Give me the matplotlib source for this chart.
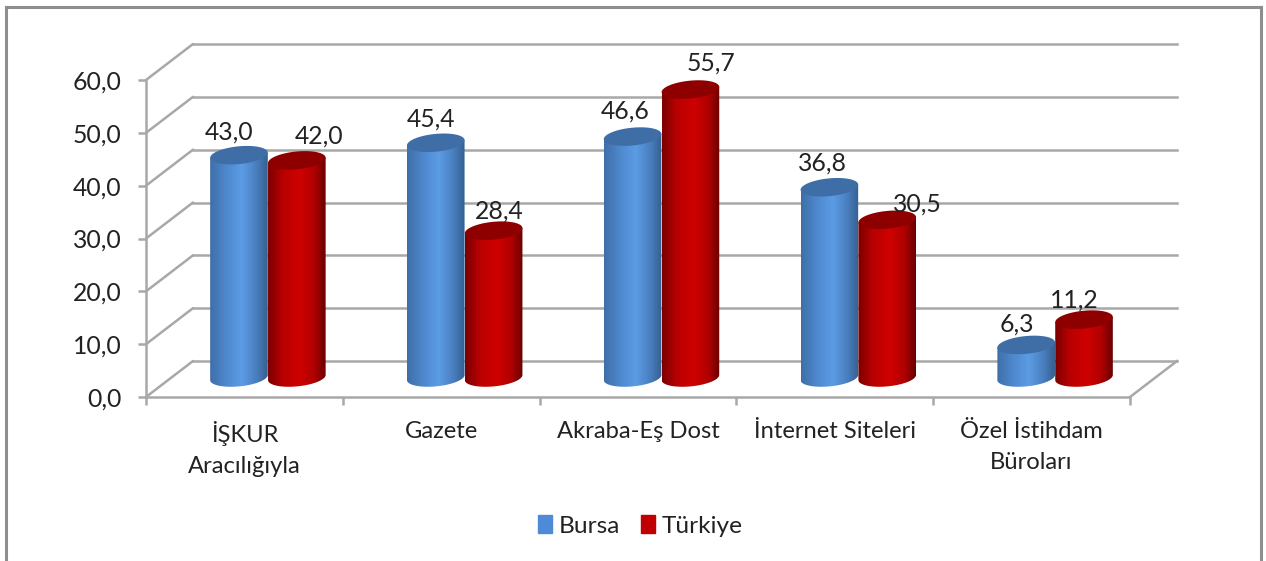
import numpy as np
import matplotlib
matplotlib.use("Agg")
import matplotlib.pyplot as plt
from matplotlib.colors import LinearSegmentedColormap
from matplotlib.lines import Line2D
from matplotlib.patches import PathPatch, Patch
from matplotlib.path import Path

categories = ["İŞKUR\nAracılığıyla", "Gazete", "Akraba-Eş Dost", "İnternet Siteleri", "Özel İstihdam\nBüroları"]
bursa = [43.0, 45.4, 46.6, 36.8, 6.3]
turkiye = [42.0, 28.4, 55.7, 30.5, 11.2]
series_names = ["Bursa", "Türkiye"]
y_ticks = [0, 10, 20, 30, 40, 50, 60]

W, H = 1266, 561
plt.rcParams["font.family"] = ["Lato", "DejaVu Sans"]
FS = 17.8
FS_CAT = 17.1
TXT = "#222222"
GRID = "#a8a8a8"
fig = plt.figure(figsize=(W / 100, H / 100), dpi=100, facecolor="white")


def axes_px(l, r, top, bottom):
    return fig.add_axes([l / W, 1 - bottom / H, (r - l) / W, (bottom - top) / H])


# chart frame (open at the bottom)
for xs, ys in [((6, 6), (561, 7)), ((6, 1261), (7, 7)), ((1261, 1261), (7, 561))]:
    fig.add_artist(Line2D([x / W for x in xs], [1 - y / H for y in ys], color="#8e8e8e", lw=2.2))

# front plane axes: value axis and category axis
L, R, T0, B0 = 146, 1130, 80, 397
ax = axes_px(L, R, T0, B0)
ax.set_xlim(0, 5)
ax.set_ylim(0, 60)
ax.patch.set_alpha(0)
for s in ["top", "right"]:
    ax.spines[s].set_visible(False)
for s in ["left", "bottom"]:
    ax.spines[s].set_color(GRID)
    ax.spines[s].set_linewidth(1.8)
ax.set_yticks(y_ticks)
ax.set_yticklabels([f"{v:.1f}".replace(".", ",") for v in y_ticks], fontsize=FS, color=TXT)
ax.set_xticks(range(6))
ax.set_xticklabels([])
ax.set_xticks([i + 0.5 for i in range(5)], categories, minor=True, fontsize=FS_CAT, color=TXT, linespacing=1.6)
ax.tick_params(axis="y", length=5.8, width=1.8, color=GRID, pad=12)
ax.tick_params(axis="x", which="major", length=5.8, width=1.8, color=GRID)
ax.tick_params(axis="x", which="minor", length=0, pad=17)

# back wall and side wall, offset along the depth direction
dx = 47 / ((R - L) / 5)
dy = 36 / ((B0 - T0) / 60)
for v in y_ticks:
    ax.plot([0, dx], [v, v + dy], color=GRID, lw=1.8, clip_on=False, solid_capstyle="round", zorder=1)
    ax.plot([dx, 5 + dx], [v + dy, v + dy], color=GRID, lw=1.8, clip_on=False, zorder=1)
ax.plot([5, 5 + dx], [0, dy], color=GRID, lw=1.8, clip_on=False, zorder=1)

# bar axes: the cylinders sit half way along the depth
SCALE = 5.17
BASE = 377.5
SHIFT = 23.5
FLOOR = -3
bx = axes_px(L + SHIFT, R + SHIFT, BASE - 60 * SCALE, BASE - FLOOR * SCALE)
bx.axis("off")
bx.patch.set_alpha(0)

PX = (R - L) / 5
half_w = 0.147
bar_half = 28.8 / PX
b_px, s_px = 8.9, 2.6
t = np.linspace(0, 2 * np.pi, 121)

cm_blue = LinearSegmentedColormap.from_list("b", [(0, "#3f6fa8"), (0.3, "#4f8ad0"), (0.55, "#5c9ce4"), (0.8, "#4a7fc0"), (1, "#35608f")])
cm_red = LinearSegmentedColormap.from_list("r", [(0, "#7a0000"), (0.25, "#b80000"), (0.55, "#cf0000"), (0.8, "#b00000"), (1, "#6a0000")])
grad = np.linspace(0, 1, 128).reshape(1, -1)


def ellipse(cx, v):
    xs = cx + bar_half * np.cos(t)
    ys = v + (b_px * np.sin(t) + s_px * np.cos(t)) / SCALE
    return xs, ys


def cylinder(cx, v, cmap, top_color, z):
    ex_top, ey_top = ellipse(cx, v)
    # body outline: lower half of the base plus the two side edges
    lower = t[(t >= np.pi) & (t <= 2 * np.pi)]
    xs = cx + bar_half * np.cos(lower)
    ys = (b_px * np.sin(lower) + s_px * np.cos(lower)) / SCALE
    outline = np.column_stack([
        np.r_[xs, cx + bar_half, cx - bar_half, xs[0]],
        np.r_[ys, v + s_px / SCALE, v - s_px / SCALE, ys[0]],
    ])
    im = bx.imshow(grad, extent=[cx - bar_half, cx + bar_half, FLOOR, v + 3], cmap=cmap,
                   aspect="auto", zorder=z, interpolation="bilinear")
    clip = PathPatch(Path(outline), transform=bx.transData, facecolor="none", edgecolor="none")
    bx.add_patch(clip)
    im.set_clip_path(clip)
    bx.fill(ex_top, ey_top, color=top_color, zorder=z + 0.5, clip_on=False, lw=0)


x_pos = np.arange(5) + 0.5
for i in range(5):
    cylinder(x_pos[i] - half_w, bursa[i], cm_blue, "#3f6ea6", 3 + i * 0.01)
    cylinder(x_pos[i] + half_w, turkiye[i], cm_red, "#8e0000", 4 + i * 0.01)
bx.set_xlim(0, 5)
bx.set_ylim(FLOOR, 60)

# data labels: offset in pixels from the top of each cylinder
off_b = [(-10, 23.6), (-5, 24), (-7, 25), (-7, 24.5), (-9, 20.6)]
off_t = [(22, 24.7), (6, 19.7), (21, 26), (30, 16), (-10, 20)]
for i in range(5):
    for vals, offs, sgn in [(bursa, off_b, -1), (turkiye, off_t, 1)]:
        ox, oy = offs[i]
        bx.annotate(f"{vals[i]:.1f}".replace(".", ","), (x_pos[i] + sgn * half_w, vals[i]),
                    xytext=(ox * 0.72, oy * 0.72), textcoords="offset points", ha="center", va="center",
                    fontsize=FS, color=TXT, zorder=10, annotation_clip=False)

handles = [Patch(facecolor="#4f8ad6", edgecolor="#4f8ad6"), Patch(facecolor="#c00000", edgecolor="#c00000")]
fig.legend(handles, series_names, loc="center", bbox_to_anchor=(640 / W, 1 - 526 / H), ncol=2, frameon=False,
           fontsize=17.6, labelcolor=TXT, handlelength=0.6, handleheight=0.7, handletextpad=0.25,
           columnspacing=0.85, borderpad=0)

fig.savefig("out.png", dpi=100, facecolor="white")
